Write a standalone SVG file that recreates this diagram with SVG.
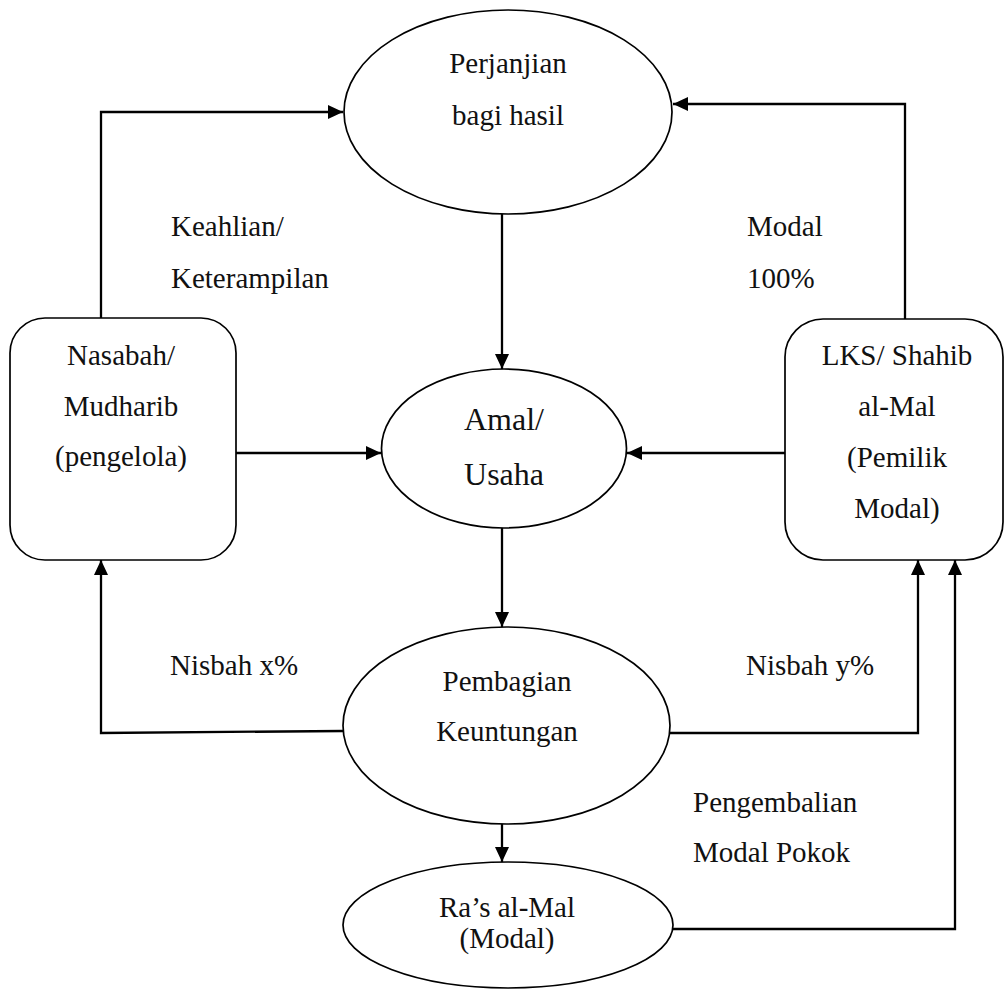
<svg xmlns="http://www.w3.org/2000/svg" width="1006" height="989" viewBox="0 0 1006 989">
<style>
.shape{fill:#fff;stroke:#000;stroke-width:1.7}
.conn{fill:none;stroke:#000;stroke-width:2.3}
.t{font-family:'Liberation Serif','Times New Roman','DejaVu Serif',serif;font-size:29px;fill:#111}
.c{text-anchor:middle}
.big{font-size:32px}
</style>
<defs>
<marker id="arr" markerUnits="userSpaceOnUse" markerWidth="16" markerHeight="14" refX="15" refY="7" orient="auto">
<path d="M0,0 L15,7 L0,14 z" fill="#000"/>
</marker>
</defs>
<rect width="1006" height="989" fill="#fff"/>
<g id="connectors">
<path class="conn" d="M101,318 V112 H343" marker-end="url(#arr)"/>
<path class="conn" d="M905,319 V104 H673" marker-end="url(#arr)"/>
<path class="conn" d="M502,214 V369" marker-end="url(#arr)"/>
<path class="conn" d="M236,453 H381" marker-end="url(#arr)"/>
<path class="conn" d="M785,453 H627" marker-end="url(#arr)"/>
<path class="conn" d="M502,528 V627" marker-end="url(#arr)"/>
<path class="conn" d="M343,731 L101,733 V560" marker-end="url(#arr)"/>
<path class="conn" d="M670,733 H918 V560" marker-end="url(#arr)"/>
<path class="conn" d="M502,824 V862" marker-end="url(#arr)"/>
<path class="conn" d="M673,929 H955 V560" marker-end="url(#arr)"/>
</g>
<g id="perjanjian" font-family="Liberation Serif, serif">
<ellipse class="shape" cx="508" cy="112" rx="164" ry="102"/>
<text class="t c" x="508" y="73">Perjanjian</text>
<text class="t c" x="508" y="125">bagi hasil</text>
</g>
<g id="nasabah" font-family="Liberation Serif, serif">
<rect class="shape" x="10" y="318" width="226" height="242" rx="35" ry="35"/>
<text class="t c" x="121" y="365">Nasabah/</text>
<text class="t c" x="121" y="416">Mudharib</text>
<text class="t c" x="121" y="466">(pengelola)</text>
</g>
<g id="lks" font-family="Liberation Serif, serif">
<rect class="shape" x="785" y="319" width="218" height="241" rx="38" ry="38"/>
<text class="t c" x="897" y="365">LKS/ Shahib</text>
<text class="t c" x="897" y="416">al-Mal</text>
<text class="t c" x="897" y="467">(Pemilik</text>
<text class="t c" x="897" y="518">Modal)</text>
</g>
<g id="amal" font-family="Liberation Serif, serif">
<ellipse class="shape" cx="504" cy="448.5" rx="122.5" ry="79.5"/>
<text class="t c big" x="504" y="430">Amal/</text>
<text class="t c big" x="504" y="485">Usaha</text>
</g>
<g id="pembagian" font-family="Liberation Serif, serif">
<ellipse class="shape" cx="506.5" cy="725.5" rx="163.5" ry="98.5"/>
<text class="t c" x="507" y="691">Pembagian</text>
<text class="t c" x="507" y="741">Keuntungan</text>
</g>
<g id="rasalmal" font-family="Liberation Serif, serif">
<ellipse class="shape" cx="508" cy="925" rx="165" ry="63"/>
<text class="t c" x="507" y="917">Ra’s al-Mal</text>
<text class="t c" x="507" y="948">(Modal)</text>
</g>
<g id="labels" font-family="Liberation Serif, serif">
<text class="t" x="171" y="236">Keahlian/</text>
<text class="t" x="171" y="288">Keterampilan</text>
<text class="t" x="747" y="236">Modal</text>
<text class="t" x="747" y="288">100%</text>
<text class="t" x="170" y="675">Nisbah x%</text>
<text class="t" x="746" y="675">Nisbah y%</text>
<text class="t" x="693" y="812">Pengembalian</text>
<text class="t" x="693" y="862">Modal Pokok</text>
</g>
</svg>
